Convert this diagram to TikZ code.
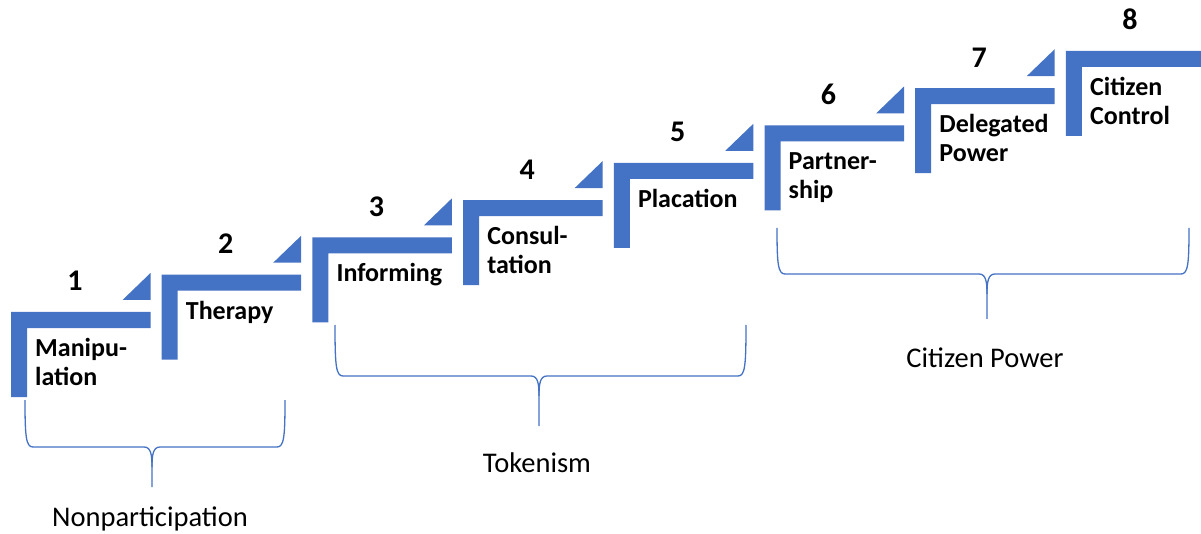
\documentclass[tikz,border=0pt]{standalone}
\usepackage{fontspec}
\setmainfont{Carlito}
\definecolor{stepblue}{HTML}{4472C4}
\tikzset{
  stepfill/.style={fill=stepblue},
  numtext/.style={inner sep=0pt, font=\fontsize{30}{36}\selectfont\bfseries, anchor=base},
  labtext/.style={inner sep=0pt, font=\fontsize{26}{29}\selectfont\bfseries, align=left, anchor=base west},
  grouptext/.style={inner sep=0pt, font=\fontsize{28.5}{34}\selectfont, anchor=base},
  bracepath/.style={draw=stepblue, line width=1.3pt}
}
\begin{document}
\begin{tikzpicture}[x=1pt,y=-1pt]
\useasboundingbox (0,0) rectangle (1201,534);
\clip (0,0) rectangle (1201,534);
% steps
\foreach \i/\num/\dy/\txt in {0/1/29/{Manipu-\\lation},1/2/0/{Therapy},2/3/0/{Informing},3/4/29/{Consul-\\tation},4/5/0/{Placation},5/6/29/{Partner-\\ship},6/7/29/{Delegated\\Power},7/8/29/{Citizen\\Control}}{
  \pgfmathsetmacro\sx{11+150.7*\i}
  \pgfmathsetmacro\sy{312-37.3*\i}
  \fill[stepfill] (\sx,\sy) -- ++(139.5,0) -- ++(0,16) -- ++(-123.5,0) -- ++(0,69) -- ++(-16,0) -- cycle;
  \ifnum\i<7
    \fill[stepfill] (\sx+139.5,\sy-39) -- (\sx+139.5,\sy-12) -- (\sx+111.5,\sy-12) -- cycle;
  \fi
  \node[numtext] (num\num) at (\sx+64,\sy-21) {\num};
  \node[labtext] (lab\num) at (\sx+24,\sy+44.5+\dy) {\txt};
}
% braces: L/R/top/h/M/bottom
\foreach \L/\R/\T/\H/\M/\B in {25/285/400/447/152/487, 335/746/325/376/539/426, 777/1189/228/274/987/319}{
  \draw[bracepath] (\L,\T) .. controls (\L,\H-10) and (\L+1,\H) .. (\L+8,\H)
    -- (\M-8,\H) .. controls (\M-1,\H) and (\M,\H+8) .. (\M,\H+20) -- (\M,\B);
  \draw[bracepath] (\R,\T) .. controls (\R,\H-10) and (\R-1,\H) .. (\R-8,\H)
    -- (\M+8,\H) .. controls (\M+1,\H) and (\M,\H+8) .. (\M,\H+20);
}
\node[grouptext] (g1) at (150,526) {Nonparticipation};
\node[grouptext] (g2) at (537,472) {Tokenism};
\node[grouptext] (g3) at (985,367) {Citizen Power};
\end{tikzpicture}
\end{document}
